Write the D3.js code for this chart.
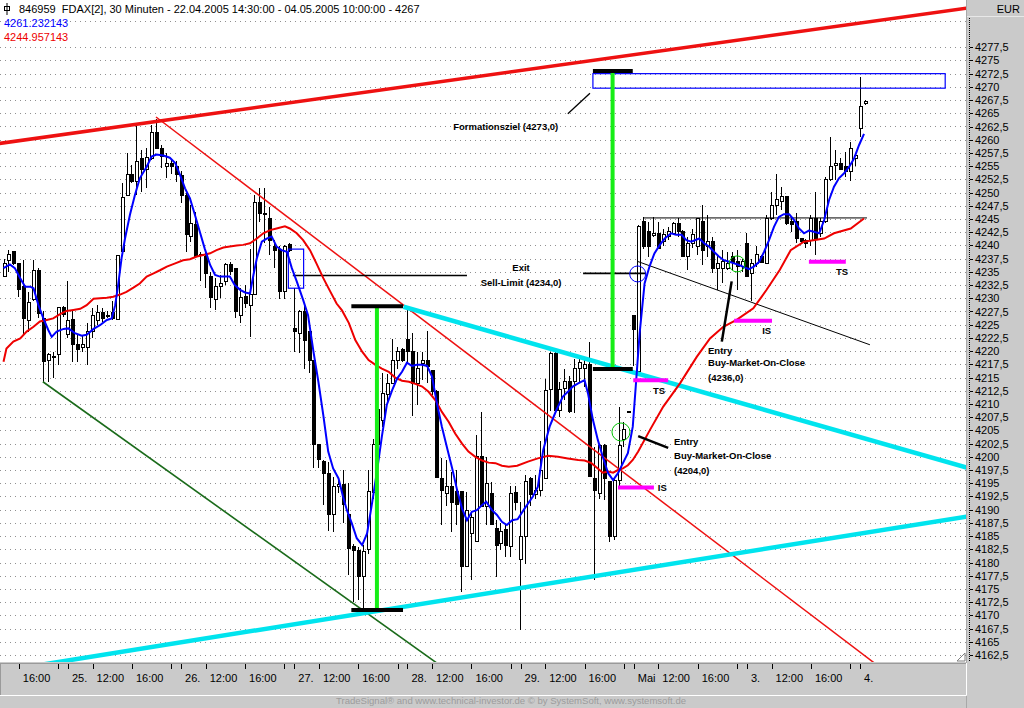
<!DOCTYPE html>
<html>
<head>
<meta charset="utf-8">
<script src="https://cdnjs.cloudflare.com/ajax/libs/d3/7.8.5/d3.min.js"></script>
<style>
  body { margin: 0; background: #fff; overflow: hidden; }
  svg { display: block; font-family: "Liberation Sans", Arial, sans-serif; }
</style>
</head>
<body>
<svg id="chart" width="1024" height="708"></svg>
<script>
// ---- FDAX 30 min bars, 22.04.2005 14:30 - 04.05.2005 10:00 ----
const open = [4234.1,4237.1,4238.8,4236.6,4232.3,4225.7,4229.8,4235.2,4226.2,4218.2,
  4218.8,4219.4,4228.3,4223.1,4225.9,4221.3,4220.7,4220.7,4223.7,4225.7,
  4227.3,4226.7,4227.3,4225.9,4238.8,4249.4,4253.5,4252.1,4256.5,4254.3,
  4256.5,4261.4,4258.4,4254.9,4255.5,4254.9,4253.3,4249.5,4241.7,4243.9,
  4238.2,4237.9,4234.1,4229.8,4232.3,4233.2,4236.3,4235.7,4226.8,4230.3,
  4228.7,4230.8,4248.2,4246.1,4245.0,4239.8,4239.3,4231.3,4240.2,4224.3,
  4223.4,4227.5,4223.7,4218.3,4202.4,4199.2,4196.9,4189.0,4194.4,4194.8,
  4189.0,4183.0,4182.3,4177.3,4182.4,4193.3,4202.4,4206.8,4211.7,4213.9,
  4218.2,4220.3,4222.2,4219.9,4213.9,4217.6,4218.2,4216.4,4212.3,4195.9,
  4193.0,4194.4,4193.4,4193.4,4179.2,4185.5,4184.0,4200.0,4190.6,4193.1,
  4186.5,4183.6,4186.2,4183.0,4193.2,4180.5,4184.9,4195.9,4192.8,4193.7,
  4195.9,4212.8,4219.5,4208.7,4212.9,4214.2,4214.2,4216.7,4216.7,4217.5,
  4195.9,4193.1,4202.2,4195.3,4184.9,4195.6,4203.2,4208.6,4226.8,4216.1,
  4244.5,4242.6,4241.8,4242.3,4240.7,4241.6,4242.3,4244.2,4242.6,4237.9,
  4240.4,4239.8,4244.5,4239.8,4240.7,4235.7,4235.7,4235.7,4237.9,4236.9,
  4236.0,4240.4,4234.7,4236.6,4237.9,4236.6,4245.1,4247.6,4248.3,4249.2,
  4244.5,4244.5,4241.3,4241.0,4241.0,4245.1,4242.3,4244.5,4252.4,4255.2,
  4255.5,4254.9,4254.0,4256.5,4262.2,4266.8];
const high = [4237.5,4239.1,4238.8,4236.6,4237.2,4231.2,4237.2,4235.7,4227.5,4219.6,
  4219.8,4228.4,4228.5,4233.3,4227.5,4223.1,4223.1,4225.3,4228.1,4228.7,
  4228.1,4227.5,4229.4,4238.1,4251.8,4257.4,4255.2,4262.8,4258.1,4258.4,
  4262.8,4264.0,4259.0,4257.4,4256.2,4256.0,4254.0,4249.9,4247.7,4246.4,
  4238.7,4238.8,4235.0,4233.8,4234.4,4236.6,4236.9,4235.7,4231.9,4232.5,
  4239.3,4249.5,4250.9,4250.9,4247.3,4241.0,4239.8,4240.1,4240.4,4231.9,
  4227.8,4229.0,4223.7,4218.3,4202.4,4199.4,4199.1,4196.2,4196.2,4197.5,
  4195.0,4183.5,4183.0,4183.3,4197.5,4203.3,4210.0,4215.8,4215.7,4222.2,
  4220.8,4220.5,4227.8,4223.4,4219.9,4219.9,4223.9,4216.4,4212.6,4199.7,
  4199.4,4197.2,4197.5,4193.4,4193.4,4189.3,4204.1,4208.5,4200.0,4195.3,
  4188.0,4187.4,4187.1,4194.4,4194.4,4191.4,4196.6,4196.2,4196.6,4203.0,
  4214.8,4219.9,4219.9,4214.2,4216.7,4215.2,4218.6,4218.6,4218.6,4221.8,
  4201.9,4202.5,4202.5,4195.3,4196.0,4209.5,4206.6,4208.6,4226.8,4243.9,
  4245.4,4244.5,4245.4,4244.5,4243.2,4243.5,4244.5,4245.1,4242.9,4241.6,
  4243.2,4245.1,4247.6,4245.7,4241.6,4238.2,4239.1,4238.8,4238.8,4239.1,
  4237.5,4242.3,4237.5,4239.8,4238.2,4245.7,4250.2,4253.6,4251.1,4249.2,
  4245.4,4246.1,4241.3,4241.3,4245.7,4250.2,4245.1,4253.0,4260.6,4258.1,
  4256.5,4257.7,4259.6,4257.5,4271.9,4267.5];
const low = [4234.1,4235.0,4236.3,4230.3,4223.1,4223.7,4229.4,4226.2,4214.2,4214.2,
  4214.9,4217.4,4226.5,4222.4,4218.0,4218.0,4219.9,4217.4,4222.4,4224.9,
  4225.6,4226.2,4225.9,4225.9,4238.8,4249.4,4251.8,4249.5,4250.2,4250.8,
  4256.2,4258.4,4254.6,4252.7,4253.6,4252.0,4248.0,4238.7,4240.7,4237.6,
  4233.2,4231.9,4228.1,4227.8,4230.1,4232.5,4234.4,4226.2,4225.3,4228.1,
  4222.7,4230.8,4244.5,4240.4,4238.2,4235.7,4229.9,4229.9,4238.8,4219.9,
  4219.6,4216.7,4215.8,4197.8,4197.8,4190.9,4186.0,4185.8,4193.1,4187.4,
  4177.6,4172.5,4173.0,4171.3,4181.7,4192.0,4201.0,4205.7,4210.1,4213.8,
  4216.7,4218.0,4218.0,4207.7,4209.8,4214.5,4213.9,4211.7,4196.0,4187.1,
  4190.6,4185.8,4187.1,4174.5,4179.2,4176.7,4184.0,4190.6,4187.1,4187.1,
  4177.3,4182.4,4181.1,4181.1,4190.0,4167.2,4179.8,4190.6,4192.1,4192.5,
  4195.9,4208.7,4208.2,4207.6,4210.7,4208.2,4208.2,4214.2,4213.3,4196.2,
  4176.7,4192.1,4191.8,4183.9,4184.3,4194.3,4201.9,4208.6,4217.1,4216.1,
  4239.4,4237.9,4241.6,4239.4,4239.8,4241.0,4242.0,4241.6,4237.9,4235.4,
  4239.5,4238.2,4236.3,4237.9,4234.7,4231.6,4232.8,4235.4,4235.4,4231.6,
  4235.0,4234.1,4229.4,4236.0,4236.6,4236.6,4244.8,4245.7,4246.7,4243.9,
  4242.6,4240.4,4240.4,4239.5,4239.8,4238.2,4241.6,4244.2,4252.1,4252.4,
  4254.3,4253.0,4252.1,4255.0,4260.6,4266.6];
const close = [4236.6,4238.2,4236.6,4231.7,4226.2,4229.2,4235.2,4227.2,4218.1,4219.4,
  4219.0,4228.3,4227.0,4225.7,4221.3,4220.3,4221.3,4223.7,4226.7,4227.3,
  4226.2,4226.7,4226.1,4238.1,4249.1,4253.5,4252.1,4255.9,4254.3,4256.6,
  4261.4,4258.4,4256.8,4255.5,4254.9,4253.5,4249.4,4242.0,4244.2,4237.9,
  4238.0,4234.6,4230.1,4232.3,4232.8,4236.3,4235.0,4227.5,4230.1,4229.0,
  4230.8,4248.2,4246.1,4245.9,4241.0,4239.1,4231.3,4239.8,4239.1,4223.7,
  4227.5,4222.1,4218.3,4202.4,4199.4,4196.9,4189.0,4194.4,4194.8,4190.9,
  4182.7,4182.3,4177.3,4182.1,4193.4,4202.4,4209.0,4211.9,4213.9,4218.3,
  4219.9,4218.2,4220.0,4213.9,4216.7,4218.2,4217.0,4212.3,4196.0,4193.7,
  4194.4,4191.3,4190.9,4179.2,4189.9,4188.6,4200.0,4190.6,4195.0,4187.1,
  4183.3,4185.8,4183.3,4193.1,4191.4,4184.9,4195.3,4192.8,4193.7,4197.5,
  4212.6,4219.5,4208.7,4212.8,4214.2,4208.5,4216.7,4217.8,4217.5,4196.2,
  4193.7,4202.2,4195.9,4184.9,4195.6,4202.2,4205.1,4208.6,4224.0,4243.5,
  4239.8,4239.8,4242.3,4239.4,4242.0,4242.6,4244.2,4242.6,4237.9,4240.4,
  4242.0,4245.1,4239.1,4240.7,4235.7,4236.6,4236.9,4236.6,4236.7,4236.0,
  4236.9,4234.1,4236.6,4238.2,4236.7,4245.1,4247.6,4248.6,4249.2,4244.2,
  4244.0,4241.3,4240.7,4240.4,4245.1,4241.3,4244.5,4252.4,4254.9,4255.5,
  4254.3,4254.0,4258.4,4257.0,4266.3,4267.3];

// moving averages, [bar, value]
const maFast = [[0,4235.7],[1.3,4236.4],[2.3,4235.7],[3.4,4233.8],[4.4,4232.2],[5.4,4232.2],[6.1,4231.9],
  [7.1,4228.7],[8.1,4226.2],[9.1,4224.0],[9.8,4222.7],[10.8,4223.7],[12.2,4224.2],[13.2,4224.3],
  [14.5,4223.4],[15.9,4222.9],[16.9,4223.1],[18.3,4224.2],[19.6,4224.9],[21,4225.9],[22,4226.2],
  [22.7,4228.7],[23.3,4232.5],[24,4237.6],[24.7,4241.3],[25.7,4245.8],[26.7,4249.5],[27.7,4252.7],
  [29.1,4254.9],[30.1,4256.8],[31.1,4257.2],[32.5,4257.0],[33.8,4256.6],[34.9,4255.6],[35.9,4253.3],
  [36.9,4250.8],[37.9,4248.9],[38.9,4245.8],[39.9,4242.6],[40.9,4239.4],[42,4236.3],[43,4234.4],
  [44,4234.1],[46,4234.1],[47,4232.5],[48.1,4231.6],[49.1,4231.1],[50.1,4230.9],[50.8,4234.4],
  [51.5,4237.6],[52.5,4240.7],[53.5,4241.3],[54.5,4241.7],[55.5,4239.8],[56.5,4239.1],[57.6,4238.8],
  [58.6,4235.7],[59.6,4233.2],[60.9,4229.7],[61.9,4226.8],[63,4219.9],[64,4214.2],[65,4207.9],
  [66,4201.0],[67,4197.8],[68.1,4195.9],[69,4192.5],[69.8,4189.9],[70.8,4187.4],[71.8,4184.6],
  [72.9,4183.3],[73.9,4185.5],[74.9,4191.2],[75.9,4197.2],[76.9,4203.8],[77.9,4209.8],[79,4212.6],
  [80,4214.8],[81,4216.1],[82,4217.8],[83,4217.2],[84,4217.4],[85.1,4217.4],[86.1,4217.2],
  [87.1,4215.2],[88.1,4210.1],[89.1,4205.7],[90.1,4201.9],[91.2,4197.8],[92.2,4193.7],[93.2,4190.2],
  [94.2,4188.0],[95.2,4189.6],[96.2,4189.9],[97.3,4190.9],[98.1,4191.5],[99.3,4189.9],[100.3,4189.0],
  [101.3,4187.7],[102.3,4187.1],[103.4,4188.0],[104.5,4188.2],[105.9,4190.2],[107.6,4192.5],
  [108.6,4194.3],[109.7,4201.3],[111,4205.7],[112.4,4208.9],[113.7,4211.4],[114.7,4212.3],
  [115.7,4213.3],[116.8,4213.9],[118.1,4214.5],[118.8,4212.0],[119.8,4207.0],[120.8,4203.2],
  [121.8,4200.0],[122.9,4196.9],[123.9,4195.6],[124.9,4196.9],[125.9,4198.8],[126.9,4200.7],
  [127.9,4205.7],[128.6,4214.5],[129.3,4223.4],[130.3,4232.8],[131.3,4236.0],[132.3,4238.5],
  [133.4,4240.1],[134.4,4241.3],[135.7,4242.3],[136.7,4242.0],[137.8,4242.0],[138.8,4241.0],
  [139.8,4240.7],[141.4,4241.3],[142.4,4240.4],[143.4,4239.8],[144.4,4238.8],[145.4,4237.9],
  [146.4,4237.2],[147.5,4236.9],[148.5,4236.6],[149.5,4236.3],[150.5,4235.9],[151.5,4235.5],
  [152.5,4236.0],[153.6,4236.9],[154.6,4238.8],[155.6,4241.0],[156.6,4243.5],[157.6,4245.4],
  [158.6,4245.9],[159.7,4245.9],[160.7,4244.8],[161.7,4243.2],[162.7,4242.3],[163.7,4242.8],
  [164.7,4242.6],[165.8,4242.3],[166.8,4244.8],[167.8,4248.6],[168.8,4251.1],[169.8,4252.7],
  [170.8,4253.6],[171.9,4254.9],[172.9,4256.5],[173.9,4259.0],[174.9,4261.1]];
const maSlow = [[0,4218.0],[0.6,4220.5],[2,4221.8],[3.4,4222.4],[4.7,4223.7],[6.1,4224.6],[7.4,4225.6],
  [8.8,4225.9],[10.1,4226.2],[11.5,4227.0],[12.8,4227.6],[14.2,4227.8],[15.6,4228.0],[16.9,4228.7],
  [18.3,4229.9],[19.6,4230.0],[21,4230.1],[22.3,4230.3],[23.7,4230.7],[25,4231.2],[26.4,4232.0],
  [27.7,4232.8],[29.1,4234.1],[30.5,4234.7],[31.8,4235.3],[33.2,4236.0],[34.9,4236.6],[36.5,4237.2],
  [37.9,4237.4],[39.3,4237.9],[40.6,4238.2],[42,4238.5],[43.3,4239.1],[44.7,4239.6],[46,4239.8],
  [47.4,4240.0],[48.7,4240.1],[50.1,4240.4],[51.5,4241.3],[52.8,4242.3],[54.2,4242.9],[55.5,4243.2],
  [57.2,4243.6],[58.2,4243.2],[59.6,4242.3],[60.9,4241.0],[62.3,4239.1],[63.6,4236.6],[65,4233.8],
  [66.4,4231.3],[67.7,4229.0],[68.8,4227.7],[70.2,4225.3],[71.5,4222.1],[72.9,4219.9],[74.2,4218.3],
  [75.6,4217.4],[76.9,4216.7],[78.3,4216.1],[79.6,4215.0],[81,4214.4],[82.4,4214.2],[83.7,4213.8],
  [85.1,4213.3],[86.4,4212.3],[87.8,4210.7],[89.1,4208.5],[90.5,4206.6],[91.8,4204.4],[93.2,4202.5],
  [94.5,4201.0],[95.9,4200.0],[97.3,4199.3],[98.6,4198.9],[100,4198.8],[101.3,4198.3],[102.7,4198.1],
  [104.4,4198.3],[106.6,4199.1],[108.6,4199.7],[110.7,4200.2],[112.7,4200.0],[114.7,4199.7],
  [116.8,4199.4],[118.1,4199.3],[119.5,4198.8],[120.8,4197.8],[121.8,4197.0],[122.9,4197.2],
  [123.9,4197.0],[124.9,4197.5],[125.9,4197.8],[126.9,4198.4],[127.9,4199.4],[129,4201.0],
  [131.4,4205.1],[134.1,4209.5],[137.5,4213.9],[140.9,4218.9],[143.6,4222.4],[146.3,4224.6],
  [149,4225.9],[152.4,4228.1],[155.1,4231.6],[157.8,4235.4],[160,4239.1],[162.7,4240.7],
  [166.8,4241.3],[168.8,4242.3],[172.2,4243.2],[174.9,4245.1]];

// axis ticks
const yTicks = [4162.5,4165,4167.5,4170,4172.5,4175,4177.5,4180,4182.5,4185,4187.5,4190,4192.5,
  4195,4197.5,4200,4202.5,4205,4207.5,4210,4212.5,4215,4217.5,4220,4222.5,4225,4227.5,4230,
  4232.5,4235,4237.5,4240,4242.5,4245,4247.5,4250,4252.5,4255,4257.5,4260,4262.5,4265,4267.5,
  4270,4272.5,4275,4277.5];
const gridLevels = yTicks.concat([4282.5]);
const xTickBars = [3,11,13,18,26,34,36,41,49,57,59,64,72,80,82,87,95,103,105,110,118,126,128,
  133,141,149,151,156,164,172,174];
const xTickLabels = ["16:00","","25.","12:00","16:00","","26.","12:00","16:00","","27.","12:00",
  "16:00","","28.","12:00","16:00","","29.","12:00","16:00","","Mai","12:00","16:00","","3.",
  "12:00","16:00","","4."];

// drawing objects (bar index, price)
const trendLines = [
  { id: "redChannel", pts: [[0, 4259.4], [175, 4282.2]], from: -2, to: 200, color: "#ee1111", w: 3.5 },
  { id: "redTrend",   pts: [[31, 4264.3], [175, 4162.4]], from: 31, to: 200, color: "#ee1111", w: 1.5 },
  { id: "greenTrend", pts: [[8, 4214.2], [73, 4171.0]],   from: 8,  to: 110, color: "#1b6b1b", w: 1.6 },
  { id: "cyanUpper",  pts: [[81.3, 4228.4], [175, 4203.5]], from: 81.3, to: 200, color: "#00e4ee", w: 4.5 },
  { id: "cyanLower",  pts: [[11.3, 4161.2], [195.8, 4188.7]], from: -2, to: 200, color: "#00e4ee", w: 4.5 },
  { id: "blackChan",  pts: [[128.8, 4237.0], [176.1, 4221.2]], from: 128.8, to: 176.1, color: "#000", w: 1 }
];
const levelLines = [
  { p: 4245.2, i0: 130, i1: 175.5, w: 1 },
  { p: 4234.3, i0: 58.8, i1: 94.2, w: 1.6 },
  { p: 4234.7, i0: 117.8, i1: 130.6, w: 1.6 }
];
const measuredMoves = [
  { i: 75.9, lo: 4171.0, hi: 4228.5, i0: 70.7, i1: 81.2 },
  { i: 123.8, lo: 4216.6, hi: 4273.0, i0: 119.8, i1: 127.9 }
];
const boxes = [
  { i0: 119.8, i1: 191.4, p0: 4269.75, p1: 4272.5 },
  { i0: 57.9, i1: 61.0, p0: 4231.9, p1: 4239.3 }
];
const stops = [
  { p: 4214.5, i0: 128.0, i1: 135.1, label: "TS", li: 132.0, lp: 4211.9 },
  { p: 4194.2, i0: 124.9, i1: 132.2, label: "IS", li: 133.0, lp: 4193.6 },
  { p: 4225.75, i0: 148.5, i1: 156.2, label: "IS", li: 154.2, lp: 4223.2 },
  { p: 4236.9, i0: 163.7, i1: 171.2, label: "TS", li: 169.2, lp: 4234.4 }
];
const circles = [
  { i: 128.9, p: 4234.6, r: 8, color: "#0000ff" },
  { i: 125.5, p: 4204.7, r: 9, color: "#00c000" },
  { i: 149.1, p: 4236.5, r: 8, color: "#00c000" }
];
const pointers = [
  { pts: [[114.7, 4264.9], [119.2, 4268.8]], w: 1.3 },
  { pts: [[129.0, 4203.9], [135.1, 4201.7]], w: 2.5 },
  { pts: [[146.0, 4221.8], [148.0, 4233.2]], w: 2.5 }
];
const notes = [
  { i: 91.4, p: 4261.8, t: "Formationsziel (4273,0)", a: "start" },
  { i: 105.2, p: 4235.2, t: "Exit", a: "middle" },
  { i: 105.2, p: 4232.3, t: "Sell-Limit (4234,0)", a: "middle" },
  { i: 136.3, p: 4202.3, t: "Entry", a: "start" },
  { i: 136.3, p: 4199.6, t: "Buy-Market-On-Close", a: "start" },
  { i: 136.3, p: 4196.8, t: "(4204,0)", a: "start" },
  { i: 143.2, p: 4219.5, t: "Entry", a: "start" },
  { i: 143.2, p: 4217.2, t: "Buy-Market-On-Close", a: "start" },
  { i: 143.2, p: 4214.4, t: "(4236,0)", a: "start" }
];
const legend = [
  { t: "4261.232143", color: "#0000ff" },
  { t: "4244.957143", color: "#ee0000" }
];
const title = "846959  FDAX[2], 30 Minuten - 22.04.2005 14:30:00 - 04.05.2005 10:00:00 - 4267";

// ---- layout ----
const W = 1024, H = 708, plotR = 966, plotB = 662;
const panel = "#cacaca";

const x = d3.scaleLinear().domain([0, 175]).range([3.5, 864.5]);
const y = d3.scaleLinear().domain([4162.5, 4282.5]).range([655, 20.8]);

const svg = d3.select("#chart");
svg.append("rect").attr("width", W).attr("height", H).attr("fill", panel);
svg.append("rect").attr("width", plotR).attr("height", plotB).attr("fill", "#fff");

svg.append("defs").append("clipPath").attr("id", "plotClip")
  .append("rect").attr("width", plotR).attr("height", plotB);
const plot = svg.append("g").attr("clip-path", "url(#plotClip)");

// grid
plot.append("g").selectAll("line").data(gridLevels).join("line")
  .attr("x1", 0).attr("x2", plotR)
  .attr("y1", d => Math.round(y(d)) + 0.5).attr("y2", d => Math.round(y(d)) + 0.5)
  .attr("stroke", "#909090").attr("stroke-dasharray", "1,4");

// candles
const bars = d3.range(open.length);
const cg = plot.append("g").attr("shape-rendering", "crispEdges");
cg.selectAll("line").data(bars).join("line")
  .attr("x1", i => Math.round(x(i)) + 0.5).attr("x2", i => Math.round(x(i)) + 0.5)
  .attr("y1", i => y(high[i])).attr("y2", i => y(low[i]))
  .attr("stroke", "#000");
cg.selectAll("rect").data(bars).join("rect")
  .attr("x", i => Math.round(x(i)) - 1)
  .attr("y", i => y(Math.max(open[i], close[i])))
  .attr("width", 3)
  .attr("height", i => Math.max(1, Math.abs(y(open[i]) - y(close[i]))))
  .attr("fill", i => close[i] >= open[i] ? "#fff" : "#000")
  .attr("stroke", "#000").attr("stroke-width", 1);

// trend lines
const priceAt = (l, i) => {
  const [[a, pa], [b, pb]] = l.pts;
  return pa + (pb - pa) * (i - a) / (b - a);
};
plot.append("g").selectAll("line").data(trendLines).join("line")
  .attr("x1", d => x(d.from)).attr("y1", d => y(priceAt(d, d.from)))
  .attr("x2", d => x(d.to)).attr("y2", d => y(priceAt(d, d.to)))
  .attr("stroke", d => d.color).attr("stroke-width", d => d.w);

// level lines
plot.append("g").selectAll("line").data(levelLines).join("line")
  .attr("x1", d => x(d.i0)).attr("x2", d => x(d.i1))
  .attr("y1", d => y(d.p)).attr("y2", d => y(d.p))
  .attr("stroke", "#000").attr("stroke-width", d => d.w);

// boxes
plot.append("g").selectAll("rect").data(boxes).join("rect")
  .attr("x", d => x(d.i0)).attr("width", d => x(d.i1) - x(d.i0))
  .attr("y", d => y(d.p1)).attr("height", d => y(d.p0) - y(d.p1))
  .attr("fill", "none").attr("stroke", "#0000ff").attr("stroke-width", 1.2);

// moving averages
const maLine = d3.line().x(d => x(d[0])).y(d => y(d[1]));
plot.append("path").datum(maSlow).attr("d", maLine)
  .attr("fill", "none").attr("stroke", "#ee0000").attr("stroke-width", 2);
plot.append("path").datum(maFast).attr("d", maLine)
  .attr("fill", "none").attr("stroke", "#0000ff").attr("stroke-width", 2);

// measured moves
const mm = plot.append("g");
mm.selectAll("line.leg").data(measuredMoves).join("line").attr("class", "leg")
  .attr("x1", d => x(d.i)).attr("x2", d => x(d.i))
  .attr("y1", d => y(d.lo)).attr("y2", d => y(d.hi))
  .attr("stroke", "#16ee16").attr("stroke-width", 4);
["lo", "hi"].forEach(k => {
  mm.selectAll("line." + k).data(measuredMoves).join("line").attr("class", k)
    .attr("x1", d => x(d.i0)).attr("x2", d => x(d.i1))
    .attr("y1", d => y(d[k])).attr("y2", d => y(d[k]))
    .attr("stroke", "#000").attr("stroke-width", 4);
});

// stops
const sg = plot.append("g");
sg.selectAll("line").data(stops).join("line")
  .attr("x1", d => x(d.i0)).attr("x2", d => x(d.i1))
  .attr("y1", d => y(d.p)).attr("y2", d => y(d.p))
  .attr("stroke", "#ff00ff").attr("stroke-width", 4);
sg.selectAll("text").data(stops).join("text")
  .attr("x", d => x(d.li)).attr("y", d => y(d.lp))
  .attr("font-size", "9.5px").attr("font-weight", "bold")
  .text(d => d.label);

// circles
plot.append("g").selectAll("circle").data(circles).join("circle")
  .attr("cx", d => x(d.i)).attr("cy", d => y(d.p)).attr("r", d => d.r)
  .attr("fill", "none").attr("stroke", d => d.color).attr("stroke-width", 1);

// pointers
plot.append("g").selectAll("line").data(pointers).join("line")
  .attr("x1", d => x(d.pts[0][0])).attr("y1", d => y(d.pts[0][1]))
  .attr("x2", d => x(d.pts[1][0])).attr("y2", d => y(d.pts[1][1]))
  .attr("stroke", "#000").attr("stroke-width", d => d.w);

// notes
plot.append("g").selectAll("text").data(notes).join("text")
  .attr("x", d => x(d.i)).attr("y", d => y(d.p))
  .attr("text-anchor", d => d.a)
  .attr("font-size", "9.5px").attr("font-weight", "bold")
  .text(d => d.t);

// header
const hdr = svg.append("g");
hdr.append("rect").attr("x", 4.5).attr("y", 6.5).attr("width", 5).attr("height", 4)
  .attr("fill", "none").attr("stroke", "#000");
hdr.append("line").attr("x1", 7).attr("x2", 7).attr("y1", 3).attr("y2", 15).attr("stroke", "#000");
hdr.append("text").attr("x", 19).attr("y", 13).attr("font-size", "11px")
  .style("white-space", "pre").text(title);
hdr.selectAll("text.leg").data(legend).join("text").attr("class", "leg")
  .attr("x", 4).attr("y", (d, k) => 27 + k * 13.5)
  .attr("font-size", "11px").attr("fill", d => d.color).text(d => d.t);

// right axis panel
svg.append("line").attr("x1", 966.5).attr("x2", 966.5).attr("y1", 0).attr("y2", H)
  .attr("stroke", "#a8a8a8");
svg.append("line").attr("x1", 967).attr("x2", W).attr("y1", 16.5).attr("y2", 16.5)
  .attr("stroke", "#e8e8e8");
svg.append("text").attr("x", 1020).attr("y", 13).attr("text-anchor", "end")
  .attr("font-size", "11px").text("EUR");
svg.append("line").attr("x1", 969.5).attr("x2", 969.5).attr("y1", 18).attr("y2", plotB)
  .attr("stroke", "#000").attr("stroke-dasharray", "1,1");

const fmt = d => d % 1 === 0 ? String(d) : d.toFixed(1).replace(".", ",");
const gy = svg.append("g").attr("transform", "translate(970,0)")
  .call(d3.axisRight(y).tickValues(yTicks).tickSize(3).tickSizeOuter(0).tickPadding(2).tickFormat(fmt));
gy.select(".domain").remove();
gy.attr("font-size", 11).attr("font-family", null);
gy.selectAll(".tick line").attr("shape-rendering", "crispEdges");

// bottom axis panel
svg.append("line").attr("x1", 0).attr("x2", plotR).attr("y1", 663.5).attr("y2", 663.5)
  .attr("stroke", "#9a9a9a");
svg.append("line").attr("x1", 0.5).attr("x2", 0.5).attr("y1", 663).attr("y2", 695)
  .attr("stroke", "#9a9a9a");
svg.append("line").attr("x1", 0).attr("x2", plotR + 0.5).attr("y1", 695.5).attr("y2", 695.5)
  .attr("stroke", "#fff");
svg.append("line").attr("x1", plotR + 0.5).attr("x2", plotR + 0.5).attr("y1", 663).attr("y2", 695.5)
  .attr("stroke", "#fff");
svg.append("path").attr("d", "M957,661 L965,653 L965,661 Z")
  .attr("fill", "#fff").attr("stroke", "#808080");

const gx = svg.append("g").attr("transform", "translate(0,664)")
  .call(d3.axisBottom(x).tickValues(xTickBars).tickSize(5).tickSizeOuter(0)
    .tickFormat((d, k) => xTickLabels[k]));
gx.select(".domain").remove();
gx.attr("font-size", 11).attr("font-family", null);
gx.selectAll(".tick line").attr("shape-rendering", "crispEdges")
  .attr("transform", "translate(0.5,0)");
gx.selectAll(".tick text").attr("text-anchor", "start").attr("dx", 4).attr("y", 10);

svg.append("text").attr("x", 336).attr("y", 704).attr("font-size", "9.5px")
  .attr("fill", "#9c9c9c").attr("textLength", 350).attr("lengthAdjust", "spacingAndGlyphs")
  .text("TradeSignal\u00ae and www.technical-investor.de \u00a9 by  SystemSoft, www.systemsoft.de");
</script>
</body>
</html>
